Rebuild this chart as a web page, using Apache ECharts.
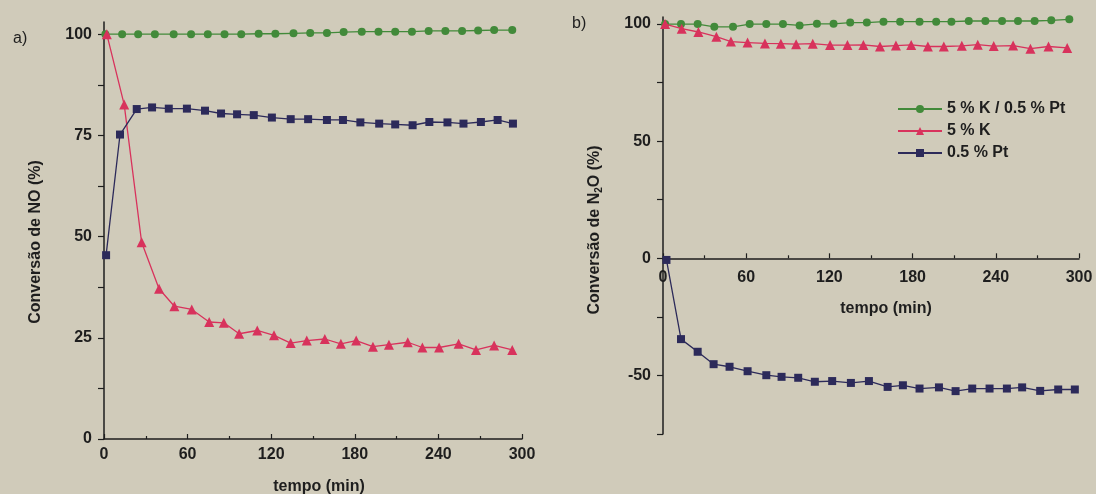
<!DOCTYPE html>
<html>
<head>
<meta charset="utf-8">
<script src="https://cdn.jsdelivr.net/npm/echarts@6/dist/echarts.min.js"></script>
<style>
  html, body { margin: 0; padding: 0; background: #d0cbba; }
  #chart { width: 1096px; height: 494px; }
</style>
</head>
<body>
<div id="chart"></div>
<script>
// ---- a) NO conversion (%) vs time (min) ----
const timeA_KPt = [1, 13, 24.5, 36.5, 50, 62.5, 74.5, 86.5, 98.5, 111, 123, 136, 148, 160, 172, 185, 197, 209, 221, 233, 245, 257, 268.5, 280, 293];
const noConv_KPt = [100, 100, 100, 100, 100, 100, 100, 100, 100, 100.1, 100.1, 100.2, 100.3, 100.3, 100.5, 100.6, 100.6, 100.6, 100.6, 100.8, 100.8, 100.8, 100.9, 101.0, 101.0];

const timeA_K = [2, 14.5, 27, 39.5, 50.5, 63, 75.5, 86, 97, 110, 122, 134, 145.5, 158.5, 170, 181, 193, 204.5, 218, 228.5, 240.5, 254.5, 267, 280, 293];
const noConv_K = [100, 82.6, 48.6, 37.1, 32.8, 32.0, 28.9, 28.7, 26.0, 26.8, 25.6, 23.7, 24.3, 24.7, 23.5, 24.3, 22.8, 23.3, 23.9, 22.6, 22.6, 23.5, 22.0, 23.1, 22.0];

const timeA_Pt = [1.5, 11.5, 23.5, 34.5, 46.5, 59.5, 72.5, 84, 95.5, 107.5, 120.5, 134, 146.5, 160, 171.5, 184, 197.5, 209, 221.5, 233.5, 246.5, 258, 270.5, 282.5, 293.5];
const noConv_Pt = [45.4, 75.2, 81.5, 81.9, 81.6, 81.6, 81.1, 80.4, 80.2, 80.0, 79.4, 79.0, 79.0, 78.8, 78.8, 78.2, 77.9, 77.7, 77.5, 78.3, 78.2, 77.9, 78.3, 78.8, 77.9];

// ---- b) N2O conversion (%) vs time (min) ----
const timeB_KPt = [1.5, 13, 25, 37, 50.5, 62.5, 74.5, 86.5, 98.5, 111, 123, 135, 147, 159, 171, 185, 197, 208, 220.5, 232.5, 244.5, 256, 268, 280, 293];
const n2oConv_KPt = [100, 100, 100, 98.8, 98.8, 100, 100, 100, 99.4, 100.1, 100.1, 100.6, 100.6, 101.0, 101.0, 101.0, 101.0, 101.0, 101.3, 101.3, 101.3, 101.3, 101.3, 101.6, 102.0];

const timeB_K = [1.5, 13.5, 25.5, 38.5, 49, 61, 73.5, 85, 96, 108, 120.5, 133, 144.5, 156.5, 168, 179, 191, 202.5, 215.5, 227, 238.5, 252.5, 265, 278, 291.5];
const n2oConv_K = [100, 98.0, 96.6, 94.6, 92.5, 92.1, 91.7, 91.6, 91.4, 91.6, 91.0, 91.0, 91.1, 90.4, 90.8, 91.1, 90.4, 90.4, 90.7, 91.2, 90.6, 90.8, 89.5, 90.4, 89.8];

const timeB_Pt = [2.5, 13, 25, 36.5, 48, 61, 74.5, 85.5, 97.5, 109.5, 122, 135.5, 148.5, 162, 173, 185, 199, 211, 223, 235.5, 248, 259, 272, 285, 297];
const n2oConv_Pt = [-0.7, -34.5, -39.9, -45.2, -46.3, -48.2, -49.9, -50.6, -51.0, -52.7, -52.4, -53.2, -52.4, -54.9, -54.2, -55.6, -55.1, -56.7, -55.6, -55.6, -55.6, -55.1, -56.6, -56.0, -56.0];

// ---- axis ticks ----
const yTicksA = [0, 12.5, 25, 37.5, 50, 62.5, 75, 87.5, 100];
const yLabelsA = [0, 25, 50, 75, 100];
const yTicksB = [-75, -50, -25, 0, 25, 50, 75, 100];
const yLabelsB = [-50, 0, 50, 100];

const names = ['5 % K / 0.5 % Pt', '5 % K', '0.5 % Pt'];
const colors = ['#428a3a', '#d8325c', '#2c2a5a'];
const symbols = ['circle', 'triangle', 'rect'];
const symbolSizes = [8, 10, 8];

const FONT = '"Liberation Sans", Arial, sans-serif';
const INK = '#1e1e1e';

// plot box sizes (px)
const PLOT_W = 418, PLOT_H = 417;
const B_MIN = -75, B_MAX = 103;
// panel b: the time axis sits on the zero line, lifted from the plot bottom
const B_ZERO_LIFT = PLOT_H * (0 - B_MIN) / (B_MAX - B_MIN);

function pairs(xs, ys) { return xs.map((x, i) => [x, ys[i]]); }

function lineSeries(k, grid, xs, ys) {
  return {
    type: 'line',
    name: names[k],
    xAxisIndex: grid,
    yAxisIndex: grid,
    data: pairs(xs, ys),
    symbol: symbols[k],
    symbolSize: symbolSizes[k],
    showAllSymbol: true,
    color: colors[k],
    lineStyle: { width: 1.3, color: colors[k] },
    itemStyle: { color: colors[k] },
    emphasis: { disabled: true },
    z: 2 + k
  };
}

function timeAxis(grid, labelMargin, namePad, nameGap, offset) {
  return {
    type: 'value', gridIndex: grid, min: 0, max: 300, interval: 60,
    position: 'bottom', offset: offset,
    name: 'tempo (min)', nameLocation: 'middle', nameGap: nameGap,
    nameTextStyle: { fontFamily: FONT, fontWeight: 'bold', fontSize: 16, color: INK, padding: [0, 0, 0, namePad] },
    axisLine: { show: true, onZero: false, lineStyle: { color: INK, width: 1.5 } },
    axisTick: { show: true, inside: true, length: 5, lineStyle: { color: INK, width: 1.2 } },
    minorTick: { show: true, splitNumber: 2, length: 3, lineStyle: { color: INK, width: 1.2 } },
    axisLabel: { margin: labelMargin, fontFamily: FONT, fontWeight: 'bold', fontSize: 16, color: INK },
    splitLine: { show: false },
    minorSplitLine: { show: false }
  };
}

function valueAxis(grid, min, max, interval, ticks, labels, name, nameGap, namePad, rich) {
  const ax = {
    type: 'value', gridIndex: grid, min: min, max: max, interval: interval,
    name: name, nameLocation: 'middle', nameGap: nameGap,
    nameTextStyle: { fontFamily: FONT, fontWeight: 'bold', fontSize: 16, color: INK, padding: [0, namePad, 0, 0] },
    axisLine: { show: true, onZero: false, lineStyle: { color: INK, width: 1.5 } },
    axisTick: { show: true, length: 6, lineStyle: { color: INK, width: 1.2 }, customValues: ticks },
    axisLabel: { margin: 12, fontFamily: FONT, fontWeight: 'bold', fontSize: 16, color: INK, customValues: labels },
    splitLine: { show: false }
  };
  if (rich) ax.nameTextStyle.rich = rich;
  return ax;
}

const chart = echarts.init(document.getElementById('chart'), null, { renderer: 'canvas' });

chart.setOption({
  backgroundColor: '#d0cbba',
  animation: false,
  title: [
    { text: 'a)', left: 8, top: 26, textStyle: { fontFamily: FONT, fontWeight: 'normal', fontSize: 16, color: INK } },
    { text: 'b)', left: 567, top: 11, textStyle: { fontFamily: FONT, fontWeight: 'normal', fontSize: 16, color: INK } }
  ],
  legend: {
    orient: 'vertical', left: 892, top: 96,
    itemWidth: 44, itemHeight: 10, itemGap: 6,
    data: names,
    selectedMode: false,
    textStyle: { fontFamily: FONT, fontWeight: 'bold', fontSize: 16, color: INK, lineHeight: 16 }
  },
  grid: [
    { left: 104, top: 22, width: PLOT_W, height: PLOT_H, outerBoundsMode: 'none', containLabel: false },
    { left: 663, top: 17, width: PLOT_W - 2, height: PLOT_H, outerBoundsMode: 'none', containLabel: false }
  ],
  xAxis: [
    timeAxis(0, 8, 12, 40, 0),
    timeAxis(1, 11, 30, 42, -B_ZERO_LIFT)
  ],
  yAxis: [
    valueAxis(0, 0, 103, 12.5, yTicksA, yLabelsA, 'Conversão de NO (%)', 60, 23),
    valueAxis(1, B_MIN, B_MAX, 25, yTicksB, yLabelsB, '{t|Conversão de N}{s|2}{t|O (%)}', 59, 9, {
      t: { fontFamily: FONT, fontWeight: 'bold', fontSize: 16, color: INK },
      s: { fontFamily: FONT, fontWeight: 'bold', fontSize: 10, color: INK, padding: [8, 0, 0, 0] }
    })
  ],
  series: [
    lineSeries(0, 0, timeA_KPt, noConv_KPt),
    lineSeries(1, 0, timeA_K, noConv_K),
    lineSeries(2, 0, timeA_Pt, noConv_Pt),
    lineSeries(0, 1, timeB_KPt, n2oConv_KPt),
    lineSeries(1, 1, timeB_K, n2oConv_K),
    lineSeries(2, 1, timeB_Pt, n2oConv_Pt)
  ]
});
</script>
</body>
</html>
